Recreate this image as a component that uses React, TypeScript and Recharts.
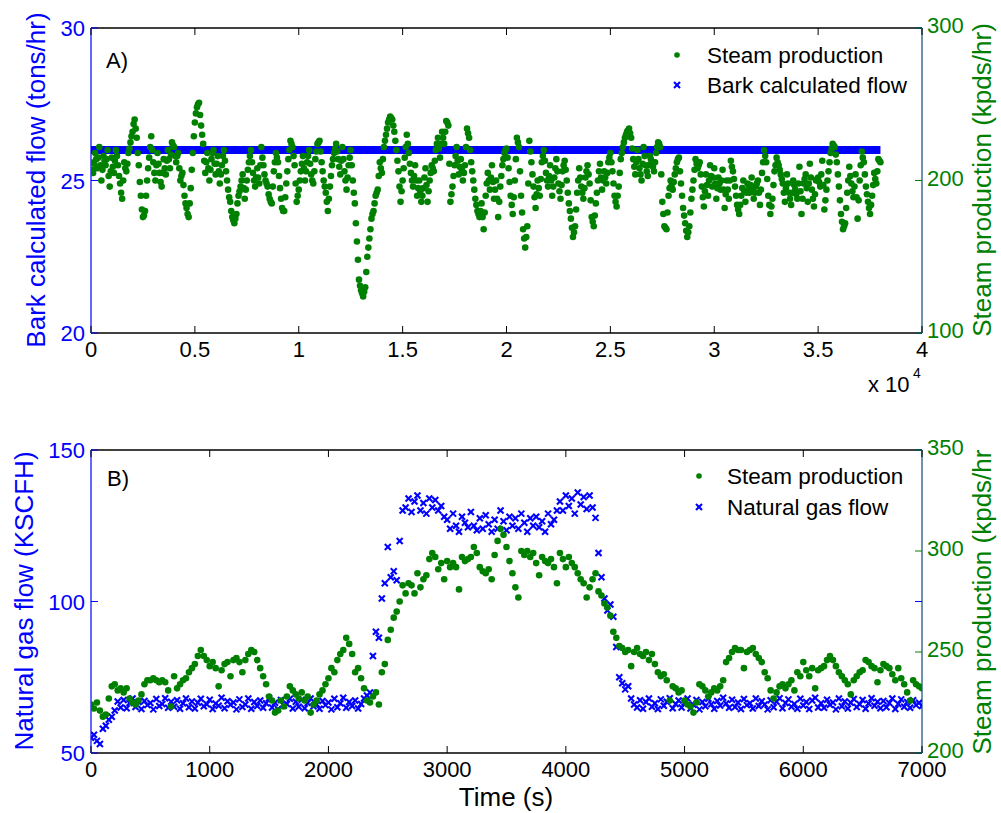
import React from 'react';
import { ScatterChart, Scatter, XAxis, YAxis, ReferenceLine } from 'recharts';

const FONT = '"Liberation Sans", Arial, Helvetica, sans-serif';
const BLUE = '#0000ff';
const GREEN = '#008000';
const RIGHT_EDGE = '#1e5a7c';

const PLOT_LEFT = 91;
const PLOT_RIGHT = 922;
const TICK = 7;

// ---------- Panel A: one steam sample every 50 s
const steamAStep = 50;
const steamA = [
  212, 207, 205, 211, 218, 214, 208, 215, 222, 210, 200, 207, 216, 213, 210, 214, 220, 203, 196, 206,
  215, 209, 205, 213, 220, 216, 210, 203, 198, 192, 188, 200, 212, 208, 206, 211, 218, 221, 225, 229,
  232, 237, 240, 234, 228, 218, 210, 199, 190, 181, 176, 177, 180, 190, 200, 208, 215, 222, 229, 220,
  212, 205, 200, 210, 218, 211, 205, 199, 196, 205, 214, 208, 204, 213, 220, 214, 208, 217, 225, 223,
  222, 216, 212, 216, 218, 208, 200, 203, 205, 197, 190, 185, 182, 178, 176, 185, 195, 207, 218, 229,
  238, 244, 248, 250, 251, 243, 236, 230, 224, 213, 205, 212, 218, 208, 200, 207, 214, 218, 220, 211,
  204, 211, 216, 206, 198, 204, 210, 216, 220, 213, 206, 200, 194, 189, 186, 180, 176, 174, 172, 175,
  178, 185, 190, 193, 196, 200, 204, 195, 188, 194, 200, 207, 212, 216, 220, 212, 205, 200, 196, 202,
  208, 202, 198, 210, 222, 215, 210, 204, 200, 198, 196, 191, 188, 186, 185, 196, 206, 212, 218, 215,
  212, 203, 195, 188, 182, 180, 180, 189, 198, 206, 214, 220, 226, 224, 222, 216, 210, 198, 186, 190,
  194, 200, 206, 211, 216, 208, 200, 206, 212, 216, 220, 211, 204, 200, 198, 206, 214, 219, 224, 225,
  226, 219, 212, 206, 200, 196, 192, 186, 180, 188, 196, 203, 210, 214, 218, 221, 224, 219, 214, 209,
  204, 213, 222, 214, 206, 200, 194, 202, 210, 215, 220, 210, 200, 192, 185, 172, 160, 148, 135, 131,
  128, 126, 124, 127, 130, 140, 150, 156, 162, 168, 175, 178, 180, 185, 190, 192, 194, 203, 212, 208,
  205, 214, 222, 226, 230, 234, 238, 240, 242, 241, 240, 236, 232, 226, 220, 213, 206, 196, 186, 193,
  200, 208, 215, 222, 230, 224, 218, 211, 205, 200, 196, 203, 210, 200, 190, 195, 200, 193, 186, 190,
  195, 202, 208, 197, 186, 193, 200, 205, 210, 208, 206, 213, 220, 224, 228, 221, 215, 224, 232, 228,
  224, 232, 239, 238, 236, 211, 186, 191, 196, 203, 210, 216, 222, 213, 204, 209, 214, 207, 200, 205,
  210, 222, 234, 231, 228, 220, 212, 206, 200, 194, 188, 184, 180, 178, 176, 180, 185, 176, 168, 179,
  190, 198, 205, 200, 194, 202, 210, 199, 188, 194, 200, 188, 176, 186, 196, 203, 210, 214, 218, 220,
  221, 215, 208, 199, 190, 184, 178, 189, 200, 214, 228, 225, 222, 206, 190, 179, 168, 162, 156, 163,
  170, 198, 226, 219, 212, 204, 196, 189, 182, 191, 200, 195, 190, 201, 212, 216, 220, 213, 205, 200,
  196, 203, 210, 200, 190, 196, 202, 208, 214, 206, 198, 193, 188, 197, 206, 210, 213, 207, 200, 192,
  185, 180, 175, 169, 163, 166, 170, 181, 192, 200, 208, 202, 196, 192, 188, 195, 202, 206, 210, 204,
  198, 187, 176, 173, 170, 177, 185, 192, 200, 206, 211, 202, 194, 200, 206, 202, 198, 205, 212, 215,
  218, 212, 206, 198, 190, 186, 183, 190, 196, 205, 214, 218, 222, 225, 228, 230, 232, 233, 234, 231,
  228, 221, 214, 209, 204, 212, 220, 214, 208, 204, 200, 211, 222, 216, 210, 206, 203, 210, 216, 214,
  212, 209, 206, 212, 218, 222, 225, 224, 222, 204, 186, 178, 170, 169, 168, 179, 190, 195, 200, 197,
  194, 199, 204, 208, 212, 214, 215, 206, 198, 190, 182, 177, 172, 167, 163, 166, 170, 179, 188, 194,
  200, 207, 214, 211, 208, 210, 212, 204, 196, 189, 183, 193, 204, 197, 190, 200, 210, 203, 196, 202,
  208, 198, 188, 195, 202, 198, 194, 200, 207, 194, 182, 191, 200, 194, 188, 200, 213, 209, 206, 201,
  196, 190, 184, 181, 178, 184, 190, 195, 200, 193, 186, 192, 198, 195, 192, 197, 202, 195, 188, 192,
  196, 198, 200, 192, 184, 194, 205, 212, 220, 216, 212, 201, 190, 184, 178, 183, 188, 197, 206, 210,
  215, 212, 210, 207, 204, 201, 198, 192, 186, 195, 204, 198, 192, 188, 184, 192, 200, 197, 194, 191,
  188, 198, 209, 193, 178, 188, 198, 201, 204, 195, 186, 198, 211, 202, 194, 188, 183, 191, 200, 201,
  202, 199, 196, 204, 213, 197, 181, 187, 194, 200, 206, 212, 218, 221, 224, 223, 222, 217, 212, 204,
  196, 187, 178, 173, 168, 170, 172, 182, 192, 200, 209, 203, 198, 193, 189, 196, 204, 189, 175, 187,
  200, 210, 219, 215, 212, 204, 196, 191, 186, 182, 178, 184, 190, 197, 205, 201, 198, 206, 214, 213,
  212,
];
const barkTime = [0, 38000];
const barkFlow = [26, 26];
const xTicksA = [0, 5000, 10000, 15000, 20000, 25000, 30000, 35000, 40000];
const leftTicksA = [20, 25, 30];
const rightTicksA = [100, 200, 300];

// ---------- Panel B: one sample every 25 s
const stepB = 25;
const gasFlow = [
  55, 56, 54, 53, 58, 59, 61, 62, 64, 67,
  65, 67.5, 64.8, 66.5, 68, 65.2, 66.8, 64.5, 67.2, 65.8,
  66.5, 64.4, 67.8, 65.5, 66.2, 68.1, 64.9, 66.9, 65.3, 67.4,
  64.6, 66.4, 68, 65.1, 67, 64.7, 66.6, 67.9, 65.4, 66.1,
  67.6, 64.5, 66.3, 65.6, 68.2, 64.8, 67.1, 65.9, 66.7, 64.4,
  67.7, 65.2, 66, 68, 64.6, 66.8, 65.5, 67.3, 64.9, 66.4,
  68.1, 65, 66.6, 64.5, 67.5, 65.7, 66.2, 67.9, 64.7, 66.9,
  65.3, 67.6, 64.8, 66.5, 68, 65.4, 66.1, 64.6, 67.2, 65.8,
  66.7, 64.4, 67.9, 65.1, 66.4, 68.2, 64.9, 66.8, 65.5, 67.3,
  64.7, 66.2, 68, 69, 70, 82, 90, 88, 101, 106,
  118, 108, 110, 107, 120, 130, 131, 134, 129.5, 133,
  135, 130, 132.5, 129, 134, 131, 133.5, 130, 131.5, 128,
  127, 124, 129, 125, 123, 128, 126, 124.5, 129.5, 125,
  123.5, 127.5, 124, 128.5, 125.5, 123, 127, 124, 130, 126.5,
  123.5, 128, 125, 127.5, 124, 129, 126, 123, 127.5, 125,
  128, 124.5, 126.5, 123, 129, 125.5, 127, 130, 133, 130,
  135, 131.5, 134, 129, 136, 132, 134.5, 130.5, 135, 131,
  127.6, 116, 108, 101, 97, 99, 95, 85, 75, 73,
  71, 72, 68, 66, 65, 67.4, 64.6, 66.8, 68, 65.3,
  66.4, 64.5, 67.7, 65.6, 66.9, 68.1, 64.8, 66.2, 67.3, 65,
  66.6, 68, 64.7, 65.9, 67.5, 64.4, 66.8, 65.4, 67.9, 66.1,
  64.6, 67.2, 65.7, 68.2, 66.3, 64.9, 67.6, 65.2, 66.7, 64.5,
  67.8, 65.8, 66.4, 64.7, 68, 65.5, 67.1, 66, 64.4, 67.4,
  65.1, 66.9, 68.1, 64.8, 66.5, 67.7, 65.3, 66.2, 64.6, 67.9,
  65.7, 66.8, 64.5, 67.3, 68.2, 65, 66.4, 64.9, 67.6, 65.9,
  66.7, 64.4, 68, 65.4, 67, 64.7, 66.6, 67.8, 65.2, 66.1,
  67.5, 64.6, 66.3, 68.1, 65.6, 66.9, 64.8, 67.2, 65.1, 66.5,
  68, 64.5, 66.2, 67.7, 65.3, 66.8, 64.9, 67.4, 65.8, 66.6,
  65.5,
];
const steamB = [
  224, 222, 225, 221, 218, 219, 227, 233, 234, 231,
  232, 230, 232, 227, 225, 224, 226, 229, 234, 236,
  236, 237, 236, 235, 236, 235, 231, 223, 238, 232,
  234, 236, 237, 240, 242, 244, 248, 251, 248, 246,
  243, 245, 242, 233, 241, 244, 245, 238, 246, 247,
  245, 240, 246, 249, 251, 250, 246, 242, 238, 234,
  228, 226, 220, 221, 226, 223, 228, 233, 231, 229,
  227, 230, 226, 228, 220, 224, 226, 229, 231, 234,
  237, 242, 240, 246, 249, 251, 257, 254, 249, 240,
  242, 237, 232, 226, 225, 228, 230, 224, 240, 244,
  256, 261, 267, 270, 275, 283, 279, 284, 283, 279,
  289, 282, 286, 288, 296, 299, 297, 291, 294, 286,
  295, 292, 294, 292, 281, 297, 295, 296, 297, 302,
  299, 292, 290, 289, 291, 286, 298, 305, 311, 308,
  302, 295, 289, 282, 277, 300, 298, 300, 297, 299,
  294, 288, 297, 295, 294, 296, 292, 284, 299, 296,
  292, 297, 294, 292, 289, 286, 284, 277, 282, 286,
  289, 280, 278, 274, 272, 268, 260, 257, 253, 252,
  250, 251, 243, 250, 252, 249, 248, 250, 246, 249,
  244, 240, 238, 239, 236, 226, 233, 232, 230, 231,
  226, 224, 223, 220, 225, 234, 233, 231, 228, 230,
  232, 231, 233, 236, 245, 247, 250, 252, 251, 251,
  242, 250, 251, 252, 249, 247, 245, 240, 237, 231,
  227, 230, 233, 234, 232, 234, 236, 231, 240, 238,
  245, 241, 238, 242, 232, 241, 242, 243, 246, 248,
  246, 243, 240, 238, 236, 234, 229, 236, 238, 240,
  241, 246, 245, 243, 242, 235, 241, 244, 243, 242,
  239, 236, 242, 237, 234, 230, 226, 236, 234, 233,
  232,
];
const xTicksB = [0, 1000, 2000, 3000, 4000, 5000, 6000, 7000];
const leftTicksB = [50, 100, 150];
const rightTicksB = [200, 250, 300, 350];

const steamAData = steamA.map((v, i) => ({ t: i * steamAStep, v }));
const barkData = barkTime.map((t, i) => ({ t, v: barkFlow[i] }));
const gasData = gasFlow.map((v, i) => ({ t: i * stepB, v }));
const steamBData = steamB.map((v, i) => ({ t: i * stepB, v }));

const Dot = (p: any) => <circle cx={p.cx} cy={p.cy} r={3.3} fill={GREEN} />;
const Cross = (p: any) => {
  const s = 3;
  return (
    <g stroke={BLUE} strokeWidth={2.1}>
      <line x1={p.cx - s} y1={p.cy - s} x2={p.cx + s} y2={p.cy + s} />
      <line x1={p.cx - s} y1={p.cy + s} x2={p.cx + s} y2={p.cy - s} />
    </g>
  );
};

const xTick = (top: number, bottom: number, fmt: (v: number) => string) => (p: any) => (
  <g>
    <line x1={p.x} x2={p.x} y1={bottom} y2={bottom - TICK} stroke="#000" />
    <line x1={p.x} x2={p.x} y1={top} y2={top + TICK} stroke="#000" />
    <text x={p.x} y={bottom + 24} textAnchor="middle" fontFamily={FONT} fontSize={22} fill="#000">
      {fmt(p.payload.value)}
    </text>
  </g>
);

const leftTick = (p: any) => (
  <g>
    <line x1={PLOT_LEFT} x2={PLOT_LEFT + TICK} y1={p.y} y2={p.y} stroke={BLUE} />
    <line x1={PLOT_RIGHT} x2={PLOT_RIGHT - TICK} y1={p.y} y2={p.y} stroke={BLUE} />
    <text x={PLOT_LEFT - 6} y={p.y + 8} textAnchor="end" fontFamily={FONT} fontSize={22} fill={BLUE}>
      {p.payload.value}
    </text>
  </g>
);

const rightTick = (p: any) => (
  <g>
    <line x1={PLOT_RIGHT} x2={PLOT_RIGHT - TICK} y1={p.y} y2={p.y} stroke={GREEN} />
    <text x={PLOT_RIGHT + 5} y={p.y + 5} textAnchor="start" fontFamily={FONT} fontSize={22} fill={GREEN}>
      {p.payload.value}
    </text>
  </g>
);

const fmtA = (v: number) => String(v / 10000);
const fmtB = (v: number) => String(v);

const txt = { fontFamily: FONT } as const;

const App: React.FC = () => (
  <div style={{ position: 'absolute', left: 0, top: 0, width: 1001, height: 813, background: '#fff' }}>
    <div style={{ position: 'absolute', left: 0, top: 0 }}>
      <ScatterChart width={1001} height={400} margin={{ top: 28, right: 39, bottom: 37, left: 51 }}>
        <XAxis type="number" dataKey="t" domain={[0, 40000]} ticks={xTicksA} interval={0} height={30}
          tickLine={false} axisLine={{ stroke: '#000', strokeWidth: 1.3 }} tick={xTick(28, 333, fmtA)} allowDataOverflow />
        <YAxis yAxisId="left" type="number" dataKey="v" domain={[20, 30]} ticks={leftTicksA} interval={0} width={40}
          tickLine={false} axisLine={{ stroke: BLUE, strokeWidth: 1.2 }} tick={leftTick} allowDataOverflow />
        <YAxis yAxisId="right" orientation="right" type="number" dataKey="v" domain={[100, 300]} ticks={rightTicksA}
          interval={0} width={40} tickLine={false} axisLine={{ stroke: RIGHT_EDGE, strokeWidth: 1.3 }} tick={rightTick} allowDataOverflow />
        <ReferenceLine yAxisId="left" y={30} stroke="#000" strokeWidth={1.3} />
        <Scatter yAxisId="left" data={barkData} line={{ stroke: BLUE, strokeWidth: 8 }} shape={() => <g />} isAnimationActive={false} />
        <Scatter yAxisId="right" data={steamAData} shape={Dot} isAnimationActive={false} />
      </ScatterChart>
    </div>
    <div style={{ position: 'absolute', left: 0, top: 400 }}>
      <ScatterChart width={1001} height={413} margin={{ top: 50, right: 39, bottom: 30, left: 51 }}>
        <XAxis type="number" dataKey="t" domain={[0, 7000]} ticks={xTicksB} interval={0} height={30}
          tickLine={false} axisLine={{ stroke: '#000', strokeWidth: 1.3 }} tick={xTick(50, 353, fmtB)} allowDataOverflow />
        <YAxis yAxisId="left" type="number" dataKey="v" domain={[50, 150]} ticks={leftTicksB} interval={0} width={40}
          tickLine={false} axisLine={{ stroke: BLUE, strokeWidth: 1.2 }} tick={leftTick} allowDataOverflow />
        <YAxis yAxisId="right" orientation="right" type="number" dataKey="v" domain={[200, 350]} ticks={rightTicksB}
          interval={0} width={40} tickLine={false} axisLine={{ stroke: RIGHT_EDGE, strokeWidth: 1.3 }} tick={rightTick} allowDataOverflow />
        <ReferenceLine yAxisId="left" y={150} stroke="#000" strokeWidth={1.3} />
        <Scatter yAxisId="left" data={gasData} shape={Cross} isAnimationActive={false} />
        <Scatter yAxisId="right" data={steamBData} shape={Dot} isAnimationActive={false} />
      </ScatterChart>
    </div>
    <svg width={1001} height={813} style={{ position: 'absolute', left: 0, top: 0, pointerEvents: 'none' }}>
      <text x={106} y={68} fontSize={22} {...txt}>A)</text>
      <circle cx={677} cy={55} r={2.8} fill={GREEN} />
      <text x={707} y={63} fontSize={22.5} {...txt}>Steam production</text>
      <Cross cx={677} cy={85} />
      <text x={707} y={93} fontSize={22.5} {...txt}>Bark calculated flow</text>
      <text x={868} y={392} fontSize={22} {...txt}>x 10</text>
      <text x={913} y={378} fontSize={14} {...txt}>4</text>
      <text transform="translate(45,180) rotate(-90)" textAnchor="middle" fontSize={26} fill={BLUE} {...txt}>
        Bark calculated flow (tons/hr)
      </text>
      <text transform="translate(991,180) rotate(-90)" textAnchor="middle" fontSize={26} fill={GREEN} {...txt}>
        Steam production (kpds/hr)
      </text>
      <text x={107} y={486} fontSize={22} {...txt}>B)</text>
      <circle cx={699} cy={476} r={2.8} fill={GREEN} />
      <text x={727} y={484} fontSize={22.5} {...txt}>Steam production</text>
      <Cross cx={699} cy={507} />
      <text x={727} y={515} fontSize={22.5} {...txt}>Natural gas flow</text>
      <text x={506} y={806} textAnchor="middle" fontSize={26} {...txt}>Time (s)</text>
      <text transform="translate(33,601) rotate(-90)" textAnchor="middle" fontSize={26} fill={BLUE} {...txt}>
        Natural gas flow (KSCFH)
      </text>
      <text transform="translate(991,602) rotate(-90)" textAnchor="middle" fontSize={26} fill={GREEN} {...txt}>
        Steam production (kpds/hr
      </text>
    </svg>
  </div>
);

export default App;
